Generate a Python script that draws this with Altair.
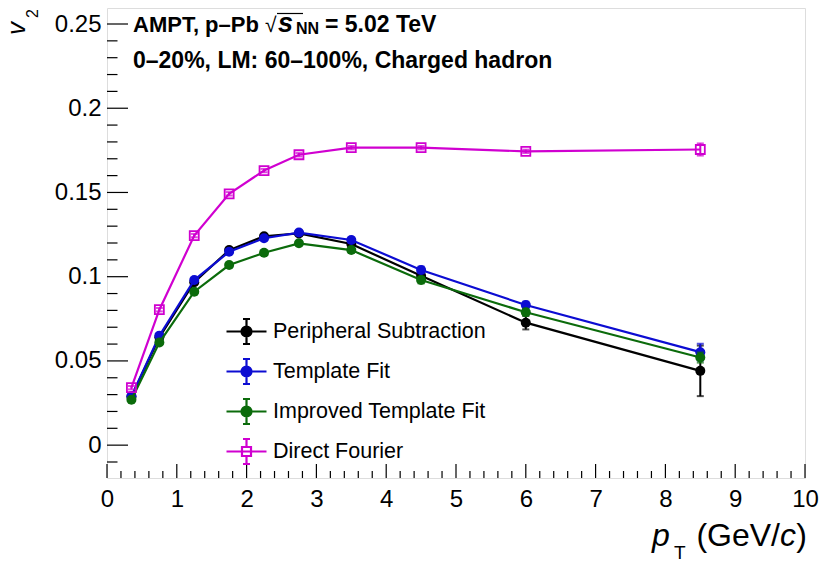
import altair as alt
import pandas as pd

# ---------------- data ----------------
pt = [0.35, 0.75, 1.25, 1.75, 2.25, 2.75, 3.5, 4.5, 6.0, 8.5]

v2_ps = [0.0288, 0.0640, 0.0967, 0.1158, 0.1240, 0.1257, 0.1194, 0.1005, 0.0727, 0.0441]
err_ps = [0.0010, 0.0010, 0.0010, 0.0010, 0.0010, 0.0010, 0.0015, 0.0020, 0.0040, 0.0150]

v2_tf = [0.0290, 0.0650, 0.0980, 0.1148, 0.1228, 0.1262, 0.1218, 0.1040, 0.0832, 0.0552]
err_tf = [0.0010, 0.0010, 0.0010, 0.0010, 0.0010, 0.0010, 0.0015, 0.0020, 0.0020, 0.0050]

v2_itf = [0.0269, 0.0609, 0.0911, 0.1069, 0.1142, 0.1198, 0.1158, 0.0980, 0.0789, 0.0520]
err_itf = [0.0010, 0.0010, 0.0010, 0.0010, 0.0010, 0.0010, 0.0015, 0.0020, 0.0020, 0.0030]

v2_df = [0.0341, 0.0804, 0.1244, 0.1492, 0.1630, 0.1724, 0.1766, 0.1766, 0.1744, 0.1755]
err_df = [0.0010, 0.0010, 0.0010, 0.0010, 0.0010, 0.0010, 0.0010, 0.0010, 0.0010, 0.0036]

series_names = ["Peripheral Subtraction", "Template Fit", "Improved Template Fit", "Direct Fourier"]
series_colors = ["#000000", "#0c0cd2", "#0b6b0b", "#d000d0"]
legend_fills = ["#000000", "#0c0cd2", "#0b6b0b", "#ffffff"]

x_major = [0, 1, 2, 3, 4, 5, 6, 7, 8, 9, 10]
x_minor = [round(i * 0.2, 1) for i in range(51) if i % 5]
y_major = [0, 0.05, 0.1, 0.15, 0.2, 0.25]
y_minor = [round(i * 0.01, 2) for i in range(-1, 26) if i % 5]

header1 = ["AMPT, p\u2013Pb"]
header_sqrt = ["\u221a"]
header_s = ["s"]
header_nn = ["NN"]
header_energy = ["= 5.02 TeV"]
header2 = ["0\u201320%, LM: 60\u2013100%, Charged hadron"]

# ---------------- layout ----------------
W, H = 698, 470
XDOM = [0, 10]
YDOM = [-0.0195, 0.2595]
FONT = "Liberation Sans"

rows = []
for name, vals, errs in [
    (series_names[0], v2_ps, err_ps),
    (series_names[1], v2_tf, err_tf),
    (series_names[2], v2_itf, err_itf),
    (series_names[3], v2_df, err_df),
]:
    for x, v, e in zip(pt, vals, errs):
        rows.append({"series": name, "pt": x, "v2": v, "lo": v - e, "hi": v + e})
df = pd.DataFrame(rows)

xs = alt.Scale(domain=XDOM, nice=False, zero=False)
ys = alt.Scale(domain=YDOM, nice=False, zero=False)
cs = alt.Scale(domain=series_names, range=series_colors)

sym_circle = ("M-1,0L1,0M0,-0.625L0,0.625M-0.175,-0.625L0.175,-0.625"
              "M-0.175,0.625L0.175,0.625M-0.25,0A0.25,0.25,0,1,0,0.25,0"
              "A0.25,0.25,0,1,0,-0.25,0Z")
sym_square = ("M-1,0L1,0M0,-0.625L0,-0.225M0,0.225L0,0.625"
              "M-0.175,-0.625L0.175,-0.625M-0.175,0.625L0.175,0.625"
              "M-0.225,-0.225L0.225,-0.225L0.225,0.225L-0.225,0.225Z")
legend_shapes = [sym_circle, sym_circle, sym_circle, sym_square]

legend = alt.Legend(
    orient="none", legendX=118, legendY=302, title=None,
    symbolSize=1600, symbolStrokeWidth=2.2, symbolOpacity=1,
    labelFont=FONT, labelFontSize=21.5, labelColor="black", labelOffset=5,
    rowPadding=1, padding=0, labelLimit=400,
)

x_axis = alt.Axis(values=x_major, format="d", ticks=False, domain=False, grid=False,
                  labelFont=FONT, labelFontSize=24, labelColor="black", labelPadding=9,
                  title=None, labelFlush=False)
y_axis = alt.Axis(values=y_major, format="~g", ticks=False, domain=False, grid=False,
                  labelFont=FONT, labelFontSize=24, labelColor="black", labelPadding=6,
                  title=None)

# legend + axes carrier (first layer): no marks of its own
layers = [
    alt.Chart(df).transform_filter("false").mark_point(filled=True, opacity=1).encode(
        x=alt.X("pt:Q", scale=xs, axis=x_axis),
        y=alt.Y("v2:Q", scale=ys, axis=y_axis),
        fill=alt.Fill("series:N", scale=alt.Scale(domain=series_names, range=legend_fills), legend=legend),
        stroke=alt.Stroke("series:N", scale=alt.Scale(domain=series_names, range=series_colors), legend=legend),
        shape=alt.Shape("series:N", scale=alt.Scale(domain=series_names, range=legend_shapes), legend=legend),
    )
]

XP = alt.X("pt:Q", scale=xs)
for name in series_names:
    base = alt.Chart(df).transform_filter(alt.datum.series == name)
    C = alt.Color("series:N", scale=cs)
    line = base.mark_line(strokeWidth=2.2).encode(x=XP, y=alt.Y("v2:Q", scale=ys), color=C)
    bar = base.mark_rule(strokeWidth=2).encode(
        x=XP, y=alt.Y("lo:Q", scale=ys), y2="hi:Q", color=C)
    cap_lo = base.mark_tick(orient="horizontal", size=7, thickness=2).encode(
        x=XP, y=alt.Y("lo:Q", scale=ys), color=C)
    cap_hi = base.mark_tick(orient="horizontal", size=7, thickness=2).encode(
        x=XP, y=alt.Y("hi:Q", scale=ys), color=C)
    if name == "Direct Fourier":
        pts = base.mark_point(shape="square", filled=False, size=81, strokeWidth=1.8, opacity=1)
    else:
        pts = base.mark_point(shape="circle", filled=True, size=100, opacity=1)
    pts = pts.encode(x=XP, y=alt.Y("v2:Q", scale=ys), color=C)
    layers += [line, bar, cap_lo, cap_hi, pts]

# inward ticks (ROOT style)
def xticks(vals, length):
    return alt.Chart(pd.DataFrame({"t": vals})).mark_rule(color="black", strokeWidth=1.2).encode(
        x=alt.X("t:Q", scale=xs), y=alt.value(H), y2=alt.value(H - length))

def yticks(vals, length):
    return alt.Chart(pd.DataFrame({"t": vals})).mark_rule(color="black", strokeWidth=1.2).encode(
        y=alt.Y("t:Q", scale=ys), x=alt.value(0), x2=alt.value(length))

layers += [xticks(x_major, 14), xticks(x_minor, 7), yticks(y_major, 21), yticks(y_minor, 10.5)]

def label(text, x, y, size, weight="normal", style="normal", angle=0, align="left"):
    return alt.Chart(pd.DataFrame({"t": text})).mark_text(
        font=FONT, fontSize=size, fontWeight=weight, fontStyle=style, angle=angle,
        align=align, baseline="alphabetic", color="black",
    ).encode(x=alt.value(x), y=alt.value(y), text="t:N")

OX, OY = 107, 8  # page position of the plot origin
layers += [
    label(header1, 133 - OX, 32 - OY, 22, "bold"),
    label(header_sqrt, 265 - OX, 32 - OY, 21),
    label(header_s, 278 - OX, 32 - OY, 27, "bold", "italic"),
    label(header_nn, 296 - OX, 34 - OY, 16, "bold"),
    label(header_energy, 325 - OX, 32 - OY, 23, "bold"),
    label(header2, 133 - OX, 68 - OY, 23, "bold"),
    # x title
    label(["p"], 652 - OX, 546 - OY, 32, style="italic"),
    label(["T"], 674 - OX, 559 - OY, 19),
    label(["(GeV/"], 780 - OX, 546 - OY, 32, align="right"),
    label(["c"], 796 - OX, 546 - OY, 32, style="italic", align="right"),
    label([")"], 807 - OX, 546 - OY, 32, align="right"),
    # y title
    label(["v"], 25 - OX, 35 - OY, 26, style="italic", angle=270),
    label(["2"], 38 - OX, 18 - OY, 16, angle=270),
]
# overline of the square root
layers.append(
    alt.Chart(pd.DataFrame({"t": [0]})).mark_rule(color="black", strokeWidth=1.2).encode(
        x=alt.value(277 - OX), x2=alt.value(303 - OX), y=alt.value(13.5 - OY))
)

chart = alt.layer(*layers).properties(
    width=W, height=H,
    autosize=alt.AutoSizeParams(type="none"),
    padding={"left": 99, "top": 0, "right": 15, "bottom": 88},
).configure_view(stroke="black", strokeWidth=2).configure(background="white")

chart.save("out.html", embed_options={"renderer": "svg", "actions": False})
